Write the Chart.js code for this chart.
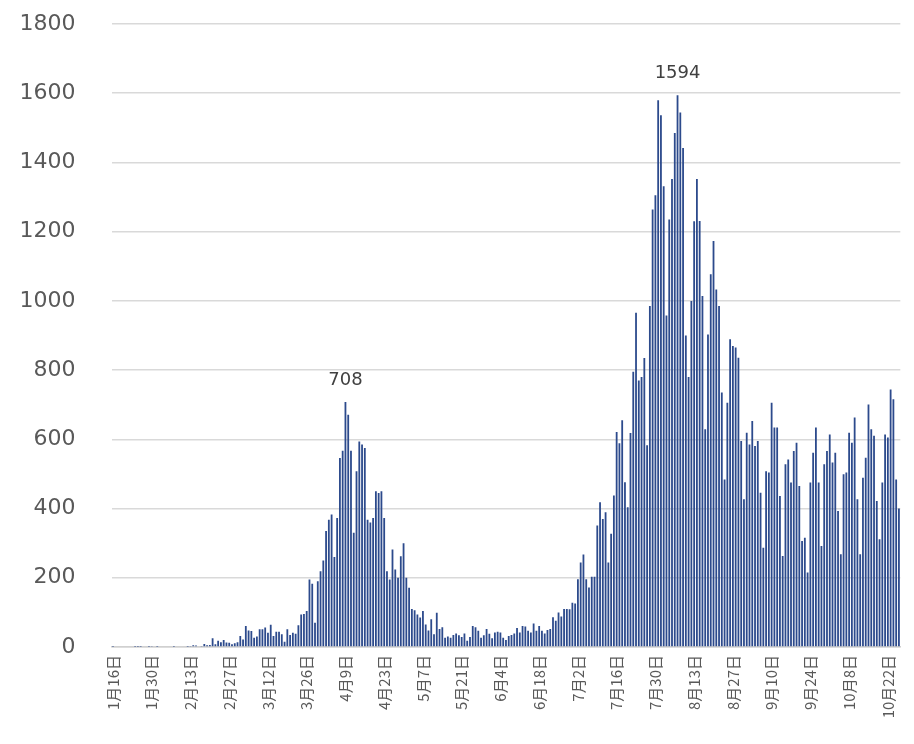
<!DOCTYPE html>
<html>
<head>
<meta charset="utf-8">
<script src="https://cdn.jsdelivr.net/npm/chart.js@4.4.1/dist/chart.umd.min.js"></script>
<style>
  html, body { margin: 0; padding: 0; background: #fff; }
  #wrap { width: 914px; height: 744px; }
</style>
</head>
<body>
<div id="wrap"><canvas id="cases"></canvas></div>
<script>
// daily new cases, one value per day starting 2020-01-16
const startDate = [2020, 0, 16];
const cases = [
  1,0,0,0,0,0,0,0,1,1,
  1,0,2,1,3,2,1,0,2,0,
  0,0,1,0,0,0,0,1,3,5,
  4,2,3,9,5,6,25,8,18,14,
  20,13,12,8,11,14,32,22,61,48,
  46,27,30,51,51,56,41,64,32,44,
  44,37,15,51,35,41,38,63,94,95,
  104,195,183,70,190,219,250,335,368,383,
  260,373,546,567,708,671,567,330,508,594,
  585,575,368,360,373,450,445,450,373,219,
  195,282,224,200,262,300,200,171,110,106,
  94,85,104,65,48,80,37,99,52,57,
  27,30,27,35,39,34,29,39,18,29,
  61,57,47,27,34,52,38,25,42,44,
  42,27,20,32,35,39,55,42,61,59,
  47,42,68,47,61,47,39,49,52,86,
  76,100,88,110,110,109,128,126,196,244,
  267,196,172,203,203,351,418,370,389,244,
  327,438,621,589,655,476,404,618,795,966,
  770,780,835,583,985,1264,1305,1580,1536,1331,
  958,1235,1352,1485,1594,1544,1442,900,780,1000,
  1230,1352,1231,1014,629,903,1077,1173,1033,985,
  735,484,706,889,870,865,836,595,427,619,
  585,653,581,595,446,287,508,504,706,634,
  634,436,263,528,542,475,566,590,465,306,
  316,215,475,561,634,475,292,528,566,614,
  533,561,393,268,499,504,619,590,663,427,
  268,489,547,701,629,610,422,311,475,614,
  605,744,716,484,400
];
const peakIdx = [84, 204];   // bars that carry a value label
const tickEvery = 14;        // one date label every two weeks
const yTicks = [0, 1800, 200]; // min, max, step

const days = [];
for (let i = 0; i < cases.length; i++) {
  const d = new Date(Date.UTC(startDate[0], startDate[1], startDate[2] + i));
  days.push((d.getUTCMonth() + 1) + "月" + d.getUTCDate() + "日");
}

const peakLabels = {
  id: "peakLabels",
  afterDatasetsDraw(chart) {
    const ctx = chart.ctx;
    const meta = chart.getDatasetMeta(0);
    ctx.save();
    ctx.font = "18px 'DejaVu Sans'";
    ctx.fillStyle = "#404040";
    ctx.textAlign = "center";
    ctx.textBaseline = "bottom";
    peakIdx.forEach(i => {
      const bar = meta.data[i];
      ctx.fillText(String(cases[i]), bar.x, bar.y - 13);
    });
    ctx.restore();
  }
};

new Chart("cases", {
  type: "bar",
  data: {
    labels: days,
    datasets: [{
      data: cases,
      backgroundColor: "#2c4a8c",
      borderWidth: 0,
      barPercentage: 0.65,
      categoryPercentage: 1.0
    }]
  },
  options: {
    responsive: true,
    maintainAspectRatio: false,
    animation: false,
    layout: { padding: { top: 24, right: 9, left: 0, bottom: 0 } },
    plugins: { legend: { display: false }, tooltip: { enabled: false } },
    scales: {
      x: {
        grid: { display: false, drawTicks: false },
        border: { display: true, color: "#d0d0d0", width: 1.5 },
        ticks: {
          autoSkip: false,
          minRotation: 90,
          maxRotation: 90,
          padding: 8,
          color: "#595959",
          font: { family: "'Noto Sans CJK JP'", size: 15 },
          callback: (v, i) => (i % tickEvery === 0 ? days[i] : null)
        },
        afterFit: s => { s.height = 97; }
      },
      y: {
        min: yTicks[0],
        max: yTicks[1],
        grid: { color: "#d9d9d9", lineWidth: 1.5, drawTicks: true, tickLength: 28, tickColor: "rgba(0,0,0,0)" },
        border: { display: false },
        ticks: {
          stepSize: yTicks[2],
          padding: 8,
          color: "#595959",
          font: { family: "'DejaVu Sans'", size: 22 },
          callback: v => String(v)
        },
        afterFit: s => { s.width = 111.6; }
      }
    }
  },
  plugins: [peakLabels]
});
</script>
</body>
</html>
